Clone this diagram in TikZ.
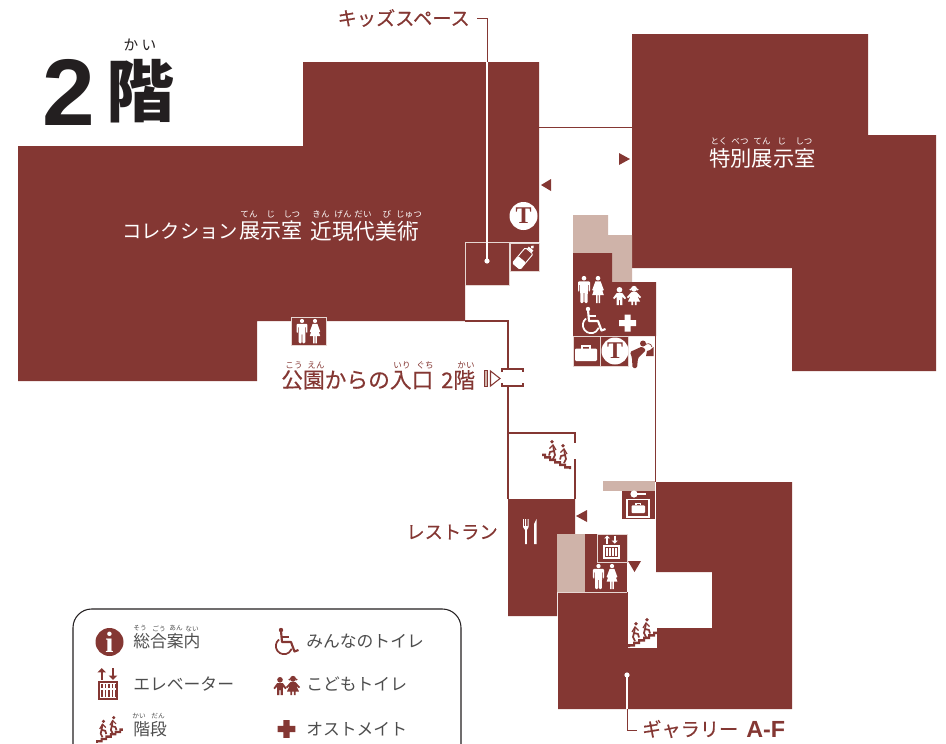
\documentclass[tikz,border=0pt]{standalone}
\usepackage{fontspec}
\setmainfont{Noto Sans CJK JP}
\newfontfamily\headfont{Liberation Sans}
\newfontfamily\badgefont{Liberation Serif}
\newfontfamily\midfont[FakeBold=0.35]{Noto Sans CJK JP}
\definecolor{planred}{HTML}{843733}
\definecolor{plantan}{HTML}{CFB3A9}
\definecolor{planedge}{HTML}{E6D6D2}
\definecolor{inkgray}{HTML}{4D4D4D}
\definecolor{inkblack}{HTML}{231F20}

\newcommand{\placeicon}[3]{\begin{scope}[shift={#2},#1]#3\end{scope}}
\newcommand{\walker}[2]{%
  \fill (#1+1,#2+1.8) circle (1.9);
  \draw[line width=1.3pt,line join=round] (#1,#2+5) -- (#1-1,#2+11) -- (#1-2,#2+15) -- (#1,#2+19);
  \draw[line width=1.3pt,line join=round] (#1-1,#2+11) -- (#1+3,#2+12) -- (#1+4,#2+15.5);
  \draw[line width=0.9pt] (#1-3,#2+10) -- (#1,#2+5) -- (#1+3.5,#2+8.5);
}
\newcommand{\iconman}{%
  \fill (0,2.2) circle (2.3);
  \fill[rounded corners=0.8pt] (-6,5.3) -- (6,5.3) -- (6,15.5) -- (4.6,15.5) -- (4.6,8) -- (3.9,8) -- (3.6,27) -- (0.5,27) -- (0.4,16) -- (-0.4,16) -- (-0.5,27) -- (-3.6,27) -- (-3.9,8) -- (-4.6,8) -- (-4.6,15.5) -- (-6,15.5) -- cycle;
}
\newcommand{\iconwoman}{%
  \fill (0,2.2) circle (2.3);
  \fill (-2.6,5.3) -- (2.6,5.3) -- (5.8,14) -- (4.6,14.6) -- (2.6,9.5) -- (5.8,19) -- (2,19) -- (2,27) -- (0.5,27) -- (0.5,19) -- (-0.5,19) -- (-0.5,27) -- (-2,27) -- (-2,19) -- (-5.8,19) -- (-2.6,9.5) -- (-4.6,14.6) -- (-5.8,14) -- cycle;
}
\newcommand{\iconboy}{%
  \fill (0,2.8) circle (2.8);
  \fill (-2.8,6) -- (2.8,6) -- (6.5,11) -- (5.3,12.2) -- (2.8,9.8) -- (2.8,18) -- (0.6,18) -- (0.6,13) -- (-0.6,13) -- (-0.6,18) -- (-2.8,18) -- (-2.8,9.8) -- (-5.3,12.2) -- (-6.5,11) -- cycle;
}
\newcommand{\icongirl}{%
  \fill (0,2.8) circle (3);
  \fill (-3.6,3.5) circle (1) (3.6,3.5) circle (1);
  \fill (-2.5,6) -- (2.5,6) -- (7,11) -- (6,12.2) -- (3.4,10) -- (6,15.5) -- (2.6,15.5) -- (2.6,19) -- (0.8,19) -- (0.8,15.5) -- (-0.8,15.5) -- (-0.8,19) -- (-2.6,19) -- (-2.6,15.5) -- (-6,15.5) -- (-3.4,10) -- (-6,12.2) -- (-7,11) -- cycle;
}
\newcommand{\iconwheel}{%
  \fill (7,2) circle (2.2);
  \draw[line width=1.6pt,line join=round] (7,3) -- (8,14) -- (17,14) -- (20.5,23.5) -- (24.5,22);
  \draw[line width=1.3pt] (8,9) -- (15,9);
  \draw[line width=1.3pt] (5,11.5) arc [start angle=232, end angle=20, radius=8.2];
}
\newcommand{\iconplus}{%
  \fill (-3,-8.5) rectangle (3,8.5) (-8.5,-3) rectangle (8.5,3);
}
\newcommand{\iconstairs}{%
  \fill (0,30) -- (0,27) -- (5,27) -- (5,24.5) -- (10,24.5) -- (10,22) -- (15,22) -- (15,19.5) -- (20,19.5) -- (20,17) -- (25,17) -- (25,14.5) -- (29,14.5) -- (29,17) -- (27,17) -- (27,19.5) -- (22,19.5) -- (22,22) -- (17,22) -- (17,24.5) -- (12,24.5) -- (12,27) -- (7,27) -- (7,29.5) -- (2,29.5) -- (2,30) -- cycle;
  \walker{7}{5}
  \walker{18}{1}
}
\newcommand{\iconarrows}{%
  \draw[line width=1.2pt] (3,9.5) -- (3,2);
  \fill (-0.5,3.5) -- (3,0) -- (6.5,3.5) -- cycle;
  \draw[line width=1.2pt] (12,0) -- (12,7.5);
  \fill (8.5,6) -- (12,9.5) -- (15.5,6) -- cycle;
}
\newcommand{\iconcase}{%
  \fill[rounded corners=0.8pt] (0,3) rectangle (22,15.5);
  \draw[line width=1pt] (7,3) -- (7,0.5) -- (15,0.5) -- (15,3);
}

\tikzset{
  badgemark/.style={text=planred,font=\badgefont\bfseries\fontsize{18}{18}\selectfont,inner sep=0pt},
  ruby/.style={font=\fontsize{6.4}{7}\selectfont,inner sep=0pt,anchor=center},
  planblock/.style={fill=planred,draw=planedge,line width=0.6pt},
  tanblock/.style={fill=plantan},
  wall/.style={draw=planred,line width=0.9pt},
  planlabel/.style={font=\midfont\fontsize{14.4}{16}\selectfont,text=planred,inner sep=0pt},
  legendtext/.style={font=\fontsize{12.6}{14}\selectfont,text=inkgray,inner sep=0pt,anchor=west},
}

\begin{document}
\begin{tikzpicture}[x=0.75pt,y=0.75pt,yscale=-1,xscale=1]
  \useasboundingbox (0,0) rectangle (946,743);

  % Thin walls
  \draw[wall] (539,127.5) -- (632,127.5);
  \draw[wall] (465,321) -- (508,321) -- (508,369);
  \draw[wall] (508,386) -- (508,499);
  \draw[wall] (508,433) -- (575,433) -- (575,443);
  \draw[wall] (575,459) -- (575,499);
  \draw[wall] (655.5,336) -- (655.5,482);
  \draw[wall] (627,592) -- (627,648);

  %Shape: Rooms
  \fill[planred] (18,146) -- (303,146) -- (303,62) -- (539,62) -- (539,242) -- (465,242) -- (465,321) -- (257,321) -- (257,381) -- (18,381) -- cycle;
  \fill[planred] (632,34) -- (868,34) -- (868,135) -- (936,135) -- (936,371) -- (792,371) -- (792,268) -- (632,268) -- cycle;
  \fill[planred] (656,482) -- (792,482) -- (792,709) -- (558,709) -- (558,592) -- (626,592) -- (626,648) -- (657,648) -- (657,628) -- (712,628) -- (712,572) -- (656,572) -- cycle;
  \fill[planred] (508,499) -- (575,499) -- (575,534) -- (557,534) -- (557,616) -- (508,616) -- cycle;

  %Shape: Tan service areas
  \fill[tanblock] (573,215) -- (608,215) -- (608,235) -- (632,235) -- (632,282) -- (612,282) -- (612,253) -- (573,253) -- cycle;
  \fill[tanblock] (603,481) rectangle (655,491);
  \fill[tanblock] (557,534) rectangle (585,592);

  %Shape: Small rooms
  \draw[planblock] (465,242) rectangle (509,285);
  \draw[planblock] (510,243) rectangle (539,271);
  \draw[planblock] (291,317) rectangle (326,345);
  \fill[planred] (573,253) -- (612,253) -- (612,282) -- (656,282) -- (656,336) -- (573,336) -- cycle;
  \draw[planblock] (573,336.5) rectangle (600.5,366);
  \draw[planblock] (600.5,336.5) rectangle (628,366);
  \fill[planred] (622,491) rectangle (655,519);
  \fill[planred] (585,534) rectangle (627,592);
  \draw[planblock] (597,534) rectangle (627,562);
  \draw[planedge,line width=0.8pt] (558,592.5) -- (627,592.5);

  %Shape: Entrance door
  \draw[wall] (502,372) -- (502,369) -- (523,369) -- (523,372);
  \draw[wall] (502,383) -- (502,386) -- (523,386) -- (523,383);
  \draw[planred,fill=plantan,line width=0.7pt] (484,370) rectangle (487.5,386);
  \draw[planred,line width=0.8pt] (490.5,371) -- (500,378.5) -- (490.5,386) -- cycle;

  %Shape: Direction triangles
  \fill[planred] (551,179) -- (541,185) -- (551,191) -- cycle;
  \fill[planred] (619,153) -- (630,159) -- (619,165) -- cycle;
  \fill[planred] (587,510) -- (576,516) -- (587,522) -- cycle;
  \fill[planred] (628,561) -- (641,561) -- (634.5,572) -- cycle;

  % Icons
  \fill[white] (523.5,216) circle (14);
  \node[badgemark] (badgeA) at (523.5,216) {T};
  \fill[white] (615,351) circle (13.5);
  \node[badgemark] (badgeB) at (615,351) {T};
  \placeicon{white}{(584,276)}{\iconman}
  \placeicon{white}{(598,276)}{\iconwoman}
  \placeicon{white}{(619.5,287)}{\iconboy}
  \placeicon{white}{(634,286)}{\icongirl}
  \placeicon{white}{(581,307)}{\iconwheel}
  \placeicon{white}{(627.5,323)}{\iconplus}
  \placeicon{white}{(575,345.5)}{\iconcase}
  \placeicon{white,scale=0.9}{(302,319)}{\iconman}
  \placeicon{white,scale=0.9}{(315,319)}{\iconwoman}
  \placeicon{white,scale=0.93}{(598.5,564)}{\iconman}
  \placeicon{white,scale=0.93}{(612,564)}{\iconwoman}
  \placeicon{planred,xscale=-1}{(571,439)}{\iconstairs}
  \placeicon{planred}{(628,617)}{\iconstairs}

  %Shape: Bottle
  \begin{scope}[shift={(524,257)},rotate=40]
    \draw[white,line width=0.7pt,rounded corners=1pt] (-5,-8) rectangle (5,12);
    \fill[white,rounded corners=1pt] (-5,3) rectangle (5,12);
    \fill[white] (-3,-11) rectangle (3,-8.5);
    \fill[white] (0,-13) circle (1.8);
  \end{scope}

  %Shape: Fork and knife
  \fill[white] (523,519) -- (523.9,519) -- (523.9,526) -- (525.2,526) -- (525.2,519) -- (526.2,519) -- (526.2,526) -- (527.6,526) -- (527.6,519) -- (528.6,519) -- (528.6,527) -- (526.9,530) -- (526.9,544) -- (525,544) -- (525,530) -- (523,527) -- cycle;
  \fill[white] (534,544) -- (534,524) -- (536.5,519) -- (536.5,544) -- cycle;

  %Shape: Key and luggage room
  \fill[white] (634,494) circle (3.6);
  \fill[white] (636,493) rectangle (646,495);
  \draw[white,line width=1pt] (627,499.5) rectangle (649,517);
  \placeicon{white,scale=0.62}{(631.5,503.5)}{\iconcase}

  %Shape: Lift
  \placeicon{white,scale=0.85}{(604.5,535.5)}{\iconarrows}
  \draw[white,line width=0.9pt] (604,546) rectangle (619,558);
  \foreach \xx in {607,610,613,616} \draw[white,line width=1pt] (\xx,548) -- (\xx,556);

  %Shape: Drinking fountain user
  \fill[planred] (643,343.5) circle (3);
  \fill[planred,rounded corners=1pt] (642,346.5) -- (646,350) -- (641,355) -- (638,358) -- (637,368) -- (632.5,368) -- (632,358) -- (630,352) -- cycle;
  \fill[planred] (646,356) -- (653.5,356) -- (653.5,347) -- (650,350) -- (647,351) -- cycle;
  \draw[planred,line width=0.5pt] (645,345) .. controls (647,343) and (651,343) .. (652,347);

  % Text Node
  \node[font=\headfont\bfseries\fontsize{71}{71}\selectfont,text=inkblack,inner sep=0pt,anchor=center] (bigtwo) at (69,92) {2};
  \node[font=\bfseries\fontsize{51}{51}\selectfont,text=inkblack,inner sep=0pt,anchor=center] (bigfloor) at (140,91) {階};
  \node[font=\fontsize{11}{12}\selectfont,text=inkblack,inner sep=0pt] (bigruby) at (140,45) {か い};

  % Text Node
  \node[planlabel,font=\fontsize{14.5}{17}\selectfont,text=white,anchor=west] (galleryA) at (122,231) {コレクション};
  \node[planlabel,font=\fontsize{15.8}{17}\selectfont,text=white,anchor=west] (galleryK) at (239,231) {展示室};
  \node[planlabel,font=\fontsize{16.3}{17}\selectfont,text=white,anchor=west] (galleryB) at (310,231) {近現代美術};
  \foreach \xx/\rb in {249/てん,271/じ,292/しつ,321/きん,343/げん,363/だい,387/び,409/じゅつ}
    \node[ruby,text=white] (ruby\xx) at (\xx,214.5) {\rb};

  \node[planlabel,font=\fontsize{16}{18}\selectfont,text=white] (special) at (762.5,158) {特別展示室};
  \foreach \xx/\rb in {719/とく,740/べつ,762/てん,782/じ,804/しつ}
    \node[ruby,text=white] (rubyS\xx) at (\xx,141) {\rb};

  \node[planlabel,font=\midfont\fontsize{16.3}{18}\selectfont,anchor=west] (entrance) at (281,380) {公園からの入口};
  \node[planlabel,font=\midfont\fontsize{16.3}{18}\selectfont,anchor=west] (entrancefloor) at (441,380) {2階};
  \foreach \xx/\rb in {294/こう,316/えん,402/いり,425/ぐち,466/かい}
    \node[ruby,text=planred] (rubyE\xx) at (\xx,365) {\rb};

  \node[planlabel,anchor=east] (kidslabel) at (470,18) {キッズスペース};
  \node[planlabel,font=\midfont\fontsize{13.7}{16}\selectfont,anchor=east] (restaurant) at (498,532) {レストラン};
  \node[planlabel,anchor=west] (gallerylabel) at (642,729) {ギャラリー};
  \node[planlabel,font=\headfont\bfseries\fontsize{17.5}{19}\selectfont,anchor=west] (galleryaf) at (746,729) {A-F};

  %Shape: Leader lines
  \coordinate (kidsstart) at (477,18);
  \coordinate (kidsbend) at (487,18);
  \coordinate (kidstop) at (487,62);
  \coordinate (kidsdot) at (487,261);
  \coordinate (galdot) at (627,675);
  \coordinate (galedge) at (627,709);
  \coordinate (galbend) at (627,730);
  \coordinate (galend) at (637,730);
  \draw[planred,line width=0.7pt] (kidsstart) -- (kidsbend) -- (kidstop);
  \draw[white,line width=0.8pt] (kidstop) -- (kidsdot);
  \fill[white] (kidsdot) circle (2.6);
  \draw[white,line width=0.8pt] (galdot) -- (galedge);
  \fill[white] (galdot) circle (2.6);
  \draw[planred,line width=0.7pt] (galedge) -- (galbend) -- (galend);

  %Shape: Legend frame
  \draw[inkblack,line width=0.8pt,rounded corners=14pt] (73,750) -- (73,609) -- (461,609) -- (461,750);

  % Legend icons
  \fill[planred] (109.5,642) circle (14);
  \node[font=\badgefont\bfseries\fontsize{22}{22}\selectfont,text=white,inner sep=0pt] (infomark) at (109.5,642) {i};
  \placeicon{planred,scale=1.25}{(98,668)}{\iconarrows}
  \draw[planred,line width=1.4pt] (99,682) rectangle (117,699);
  \foreach \xx in {102,105.5,109,112.5,115.5} \draw[planred,line width=1pt] (\xx,684) -- (\xx,697);
  \fill[white] (100,688) rectangle (116,689.5);
  \placeicon{planred,scale=0.93}{(96,715)}{\iconstairs}
  \placeicon{planred}{(274,628)}{\iconwheel}
  \placeicon{planred}{(280,677)}{\iconboy}
  \placeicon{planred}{(293,676)}{\icongirl}
  \placeicon{planred,scale=1.05}{(286.5,729)}{\iconplus}

  % Legend text
  \node[legendtext] (lginfo) at (133,641) {総合案内};
  \node[legendtext] (lglift) at (133,684) {エレベーター};
  \node[legendtext] (lgstairs) at (133,729) {階段};
  \node[legendtext] (lgwheel) at (306,641) {みんなのトイレ};
  \node[legendtext] (lgkids) at (306,684) {こどもトイレ};
  \node[legendtext] (lgplus) at (306,729) {オストメイト};
  \foreach \xx/\rb in {140/そう,159/ごう,176/あん,192/ない}
    \node[ruby,font=\fontsize{5}{6}\selectfont,text=inkgray] (rubyL\xx) at (\xx,628.5) {\rb};
  \foreach \xx/\rb in {139/かい,158/だん}
    \node[ruby,font=\fontsize{5}{6}\selectfont,text=inkgray] (rubyM\xx) at (\xx,716) {\rb};
\end{tikzpicture}
\end{document}
